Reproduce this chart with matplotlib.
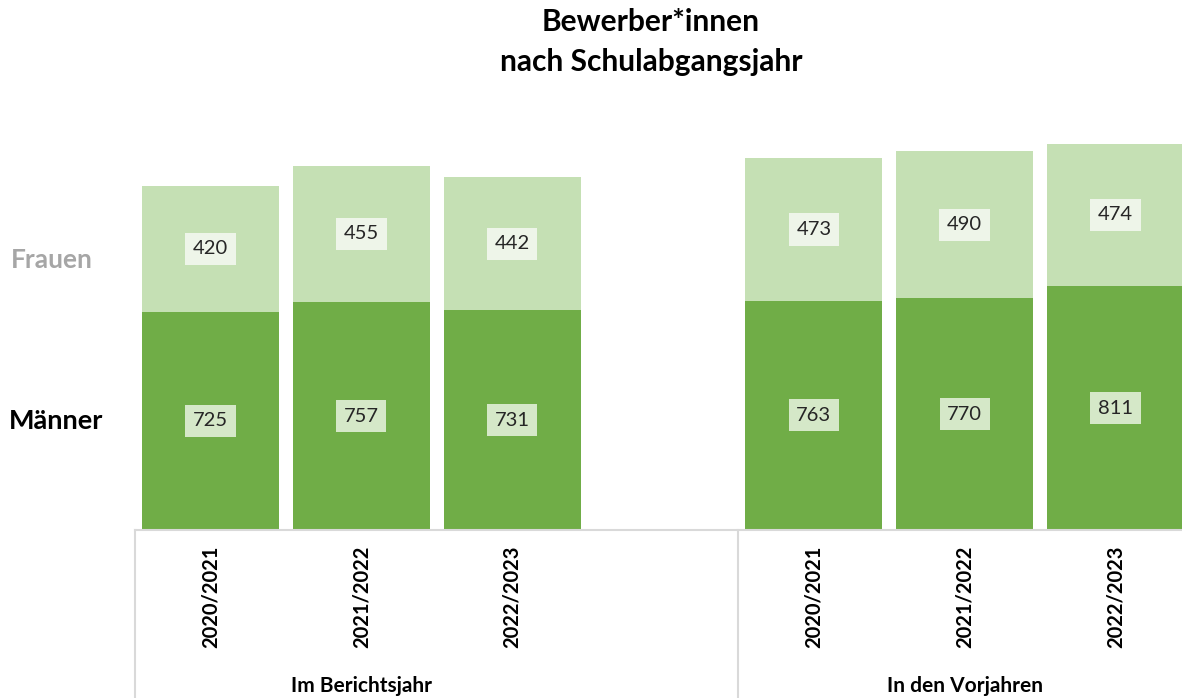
import matplotlib.pyplot as plt
from matplotlib.transforms import blended_transform_factory

plt.rcParams['font.family'] = ['Lato', 'DejaVu Sans']

groups = ["Im Berichtsjahr", "In den Vorjahren"]
years = ["2020/2021", "2021/2022", "2022/2023"]
maenner = [725, 757, 731, 763, 770, 811]
frauen = [420, 455, 442, 473, 490, 474]

dark = "#70ad47"
light = "#c5e0b4"
grid_col = "#d9d9d9"

W, H = 1182, 698
fig = plt.figure(figsize=(W / 100, H / 100), dpi=100)
# axes runs a bit past the right edge, as in the cropped original
ax = fig.add_axes([135 / W, 168 / H, 1056 / W, 430 / H])

# positions: one empty slot between the two groups
pos = [0, 1, 2, 4, 5, 6]
labels = years * 2

ax.bar(pos, maenner, width=0.91, color=dark)
ax.bar(pos, frauen, width=0.91, bottom=maenner, color=light)

for x, m, f in zip(pos, maenner, frauen):
    ax.text(x, m / 2, str(m), ha="center", va="center", fontsize=14.5,
            color="#262626",
            bbox=dict(boxstyle="square,pad=0.38", fc="#d5e8c8", ec="none"))
    ax.text(x, m + f / 2, str(f), ha="center", va="center", fontsize=14.5,
            color="#262626",
            bbox=dict(boxstyle="square,pad=0.38", fc="#eef5e9", ec="none"))

ax.set_xlim(-0.5, 6.5)
ax.set_ylim(0, 1430)
ax.set_yticks([])
ax.set_xticks(pos)
ax.set_xticklabels(labels, rotation=90, fontsize=14.5, fontweight="bold",
                   va="top")
ax.tick_params(axis="x", length=0, pad=11)
for s in ax.spines.values():
    s.set_visible(False)

# category axis with group separators
tr = blended_transform_factory(ax.transData, fig.transFigure)
base_y = 168 / H
ax.plot([-0.5, 6.5], [base_y, base_y], color=grid_col, lw=1.5,
        transform=tr, clip_on=False)
for xs in [-0.5, 3.5]:
    ax.plot([xs, xs], [base_y, 0], color=grid_col, lw=1.5,
            transform=tr, clip_on=False)

for g, c in zip(groups, [1, 5]):
    ax.text(c, 12 / H, g, ha="center", va="center", fontsize=15,
            fontweight="bold", transform=tr)

# series names on the left
tr2 = blended_transform_factory(fig.transFigure, ax.transData)
ax.text(52 / W, maenner[0] + frauen[0] * 0.41, "Frauen", ha="center",
        va="center", fontsize=19, fontweight="bold", color="#a6a6a6",
        transform=tr2)
ax.text(56 / W, maenner[0] / 2, "Männer", ha="center", va="center",
        fontsize=19.5, fontweight="bold", color="black", transform=tr2)

fig.text(651 / W, 1 - 22 / H, "Bewerber*innen", ha="center", va="center",
         fontsize=21.5, fontweight="bold")
fig.text(651 / W, 1 - 62 / H, "nach Schulabgangsjahr", ha="center",
         va="center", fontsize=21.5, fontweight="bold")

fig.savefig("out.png", dpi=100)
